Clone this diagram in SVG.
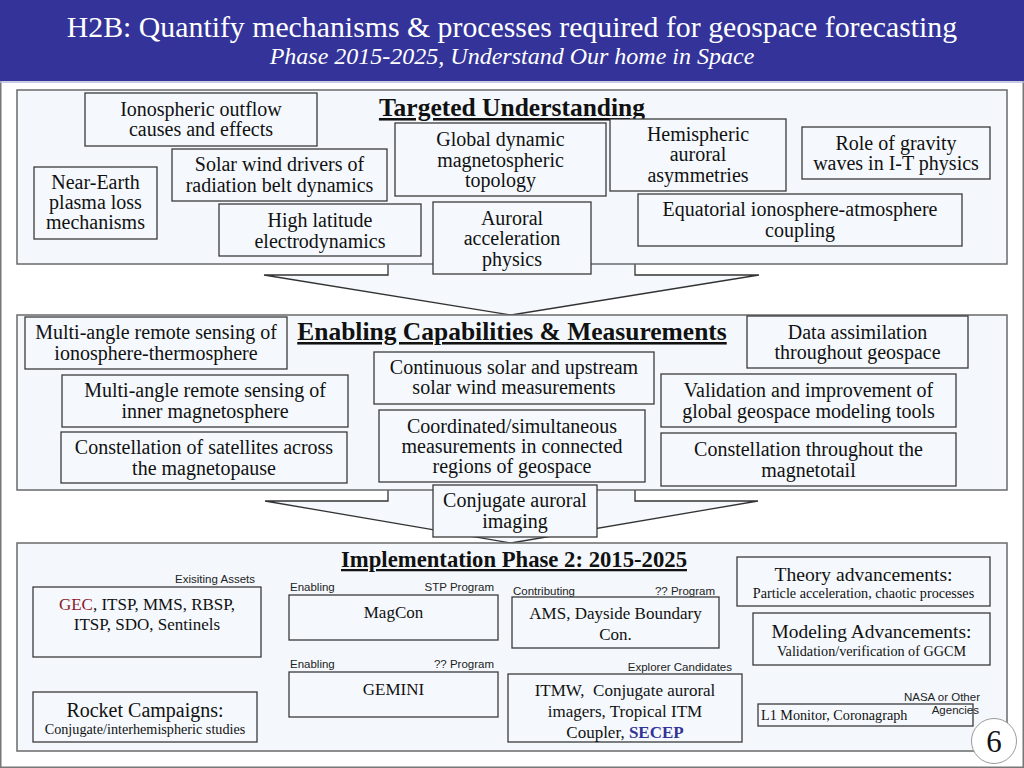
<svg xmlns="http://www.w3.org/2000/svg" width="1024" height="768" viewBox="0 0 1024 768">
<style>
.panel{fill:#f4f8fc;stroke:#6a6a6a;stroke-width:1.5}
.box{fill:#f5f9fd;stroke:#3a3a3a;stroke-width:1.3}
.arrow{fill:#f5f9fd;stroke:#333;stroke-width:1.3}
.t{font-family:"Liberation Serif","Times New Roman",serif;font-size:20px;fill:#111;text-anchor:middle}
.m{font-family:"Liberation Serif","Times New Roman",serif;font-size:17px;fill:#111;text-anchor:middle}
.h{font-family:"Liberation Serif","Times New Roman",serif;font-size:25.5px;font-weight:bold;fill:#111;text-anchor:middle;text-decoration:underline}
.s{font-family:"Liberation Sans",Arial,sans-serif;font-size:11.5px;fill:#222}
.sm{font-family:"Liberation Serif","Times New Roman",serif;font-size:14.2px;fill:#111;text-anchor:middle}
</style>
<rect x="0" y="0" width="1024" height="768" fill="#ffffff"/>
<rect x="0.75" y="0.75" width="1022.5" height="766.5" fill="none" stroke="#777" stroke-width="1.5"/>
<g id="header">
<rect x="0" y="0" width="1024" height="81" fill="#333399"/>
<line x1="0" y1="82" x2="1024" y2="82" stroke="#b8b8dc" stroke-width="1.5"/>
<text x="512" y="37" font-family="Liberation Serif,'Times New Roman',serif" font-size="29.8" fill="#ffffff" text-anchor="middle">H2B: Quantify mechanisms &amp; processes required for geospace forecasting</text>
<text x="512" y="64" font-family="Liberation Serif,'Times New Roman',serif" font-size="24" font-style="italic" fill="#ffffff" text-anchor="middle">Phase 2015-2025, Understand Our home in Space</text>
</g>
<g id="connectors">
<polygon class="arrow" points="388,255 388,275 264,275 511,315 759,275 635,275 635,255"/>
<polygon class="arrow" points="388,482 388,501 265,501 511,543 758,501 635,501 635,482"/>
</g>
<g id="panel-targeted">
<rect class="panel" x="17" y="90" width="990" height="174"/>
<text class="h" x="512" y="116">Targeted Understanding</text>
</g>
<g id="panel-enabling">
<rect class="panel" x="17" y="315" width="990" height="175"/>
<text class="h" x="512" y="340">Enabling Capabilities &amp; Measurements</text>
</g>
<g id="panel-implementation">
<rect class="panel" x="17" y="543" width="990" height="208"/>
<text class="h" x="514" y="567" style="font-size:22.7px">Implementation Phase 2: 2015-2025</text>
</g>
<g id="n-ionospheric-outflow"><rect class="box" x="85" y="93" width="232" height="53"/><text class="t" x="201" y="116">Ionospheric outflow</text><text class="t" x="201" y="136">causes and effects</text></g>
<g id="n-near-earth"><rect class="box" x="34" y="167" width="123" height="72"/><text class="t" x="95.5" y="189">Near-Earth</text><text class="t" x="95.5" y="209">plasma loss</text><text class="t" x="95.5" y="229">mechanisms</text></g>
<g id="n-solar-wind-drivers"><rect class="box" x="172" y="149" width="215" height="52"/><text class="t" x="279.5" y="171">Solar wind drivers of</text><text class="t" x="279.5" y="192">radiation belt dynamics</text></g>
<g id="n-high-latitude"><rect class="box" x="219" y="204" width="202" height="52"/><text class="t" x="320" y="227">High latitude</text><text class="t" x="320" y="248">electrodynamics</text></g>
<g id="n-global-dynamic"><rect class="box" x="395" y="123" width="211" height="73"/><text class="t" x="500.5" y="146">Global dynamic</text><text class="t" x="500.5" y="167">magnetospheric</text><text class="t" x="500.5" y="187">topology</text></g>
<g id="n-auroral-acceleration"><rect class="box" x="433" y="202" width="158" height="72"/><text class="t" x="512" y="225">Auroral</text><text class="t" x="512" y="245">acceleration</text><text class="t" x="512" y="266">physics</text></g>
<g id="n-hemispheric"><rect class="box" x="610" y="119" width="176" height="72"/><text class="t" x="698" y="141">Hemispheric</text><text class="t" x="698" y="161">auroral</text><text class="t" x="698" y="182">asymmetries</text></g>
<g id="n-gravity-waves"><rect class="box" x="802" y="127" width="188" height="52"/><text class="t" x="896" y="150">Role of gravity</text><text class="t" x="896" y="170">waves in I-T physics</text></g>
<g id="n-equatorial"><rect class="box" x="638" y="194" width="324" height="52"/><text class="t" x="800" y="216">Equatorial ionosphere-atmosphere</text><text class="t" x="800" y="237">coupling</text></g>
<g id="n-multi-angle-it"><rect class="box" x="25" y="317" width="262" height="52"/><text class="t" x="156" y="339">Multi-angle remote sensing of</text><text class="t" x="156" y="360">ionosphere-thermosphere</text></g>
<g id="n-multi-angle-im"><rect class="box" x="62" y="375" width="286" height="52"/><text class="t" x="205" y="397">Multi-angle remote sensing of</text><text class="t" x="205" y="418">inner magnetosphere</text></g>
<g id="n-constellation-mp"><rect class="box" x="61" y="432" width="286" height="51"/><text class="t" x="204" y="454">Constellation of satellites across</text><text class="t" x="204" y="475">the magnetopause</text></g>
<g id="n-continuous-solar"><rect class="box" x="374" y="352" width="280" height="52"/><text class="t" x="514" y="374">Continuous solar and upstream</text><text class="t" x="514" y="394">solar wind measurements</text></g>
<g id="n-coordinated"><rect class="box" x="379" y="410" width="266" height="72"/><text class="t" x="512" y="433">Coordinated/simultaneous</text><text class="t" x="512" y="453">measurements in connected</text><text class="t" x="512" y="473">regions of geospace</text></g>
<g id="n-conjugate-imaging"><rect class="box" x="433" y="485" width="164" height="52"/><text class="t" x="515" y="507">Conjugate auroral</text><text class="t" x="515" y="528">imaging</text></g>
<g id="n-data-assimilation"><rect class="box" x="747" y="316" width="221" height="52"/><text class="t" x="857.5" y="339">Data assimilation</text><text class="t" x="857.5" y="359">throughout geospace</text></g>
<g id="n-validation"><rect class="box" x="661" y="374" width="295" height="53"/><text class="t" x="808.5" y="397">Validation and improvement of</text><text class="t" x="808.5" y="418">global geospace modeling tools</text></g>
<g id="n-constellation-mt"><rect class="box" x="661" y="433" width="295" height="53"/><text class="t" x="808.5" y="456">Constellation throughout the</text><text class="t" x="808.5" y="477">magnetotail</text></g>
<g id="n-existing-assets"><text class="s" x="255" y="583" text-anchor="end">Exisiting Assets</text><rect class="box" x="33" y="587" width="228" height="70"/><text class="m" x="147" y="610"><tspan fill="#8b1a2a">GEC</tspan>, ITSP, MMS, RBSP,</text><text class="m" x="147" y="630">ITSP, SDO, Sentinels</text></g>
<g id="n-rocket"><rect class="box" x="33" y="692" width="224" height="50"/><text class="t" x="145" y="717">Rocket Campaigns:</text><text class="sm" x="145" y="734">Conjugate/interhemispheric studies</text></g>
<g id="n-magcon"><text class="s" x="290" y="591">Enabling</text><text class="s" x="494" y="591" text-anchor="end">STP Program</text><rect class="box" x="289" y="595" width="209" height="45"/><text class="m" x="393.5" y="618">MagCon</text></g>
<g id="n-gemini"><text class="s" x="290" y="668">Enabling</text><text class="s" x="494" y="668" text-anchor="end">?? Program</text><rect class="box" x="289" y="672" width="209" height="45"/><text class="m" x="393.5" y="695">GEMINI</text></g>
<g id="n-ams"><text class="s" x="513" y="595">Contributing</text><text class="s" x="715" y="595" text-anchor="end">?? Program</text><rect class="box" x="512" y="597" width="207" height="51"/><text class="m" x="615.5" y="619">AMS, Dayside Boundary</text><text class="m" x="615.5" y="640">Con.</text></g>
<g id="n-itmw"><text class="s" x="732" y="671" text-anchor="end">Explorer Candidates</text><rect class="box" x="508" y="674" width="234" height="68"/><text class="m" x="625" y="696" xml:space="preserve">ITMW,  Conjugate auroral</text><text class="m" x="625" y="717">imagers, Tropical ITM</text><text class="m" x="625" y="738">Coupler, <tspan fill="#333399" font-weight="bold">SECEP</tspan></text></g>
<g id="n-theory"><rect class="box" x="737" y="557" width="253" height="49"/><text class="t" x="863.5" y="581" style="font-size:19.6px">Theory advancements:</text><text class="sm" x="863.5" y="598">Particle acceleration, chaotic processes</text></g>
<g id="n-modeling"><rect class="box" x="753" y="613" width="237" height="52"/><text class="t" x="871.5" y="638" style="font-size:19.4px">Modeling Advancements:</text><text class="sm" x="871.5" y="656">Validation/verification of GGCM</text></g>
<g id="n-l1"><rect class="box" x="758" y="704" width="215" height="22"/><text class="sm" x="761" y="720" style="text-anchor:start">L1 Monitor, Coronagraph</text><text class="s" x="980" y="701" text-anchor="end">NASA or Other</text><text class="s" x="979" y="714" text-anchor="end">Agencies</text></g>
<g id="page-number"><circle cx="994" cy="741" r="22.5" fill="#ffffff" stroke="#9a9a9a" stroke-width="1"/><text x="994" y="752" font-family="Liberation Serif,'Times New Roman',serif" font-size="31" fill="#111" text-anchor="middle">6</text></g>
</svg>
